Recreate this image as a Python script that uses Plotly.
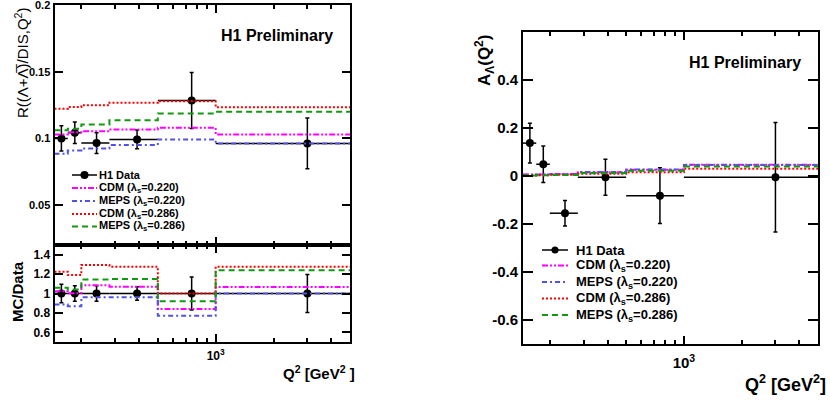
import math
import plotly.graph_objects as go

# ---------------- data ----------------
q2_edges = [145, 170, 200, 280, 500, 1000, 5000]
q2_centers = [157.5, 185, 240, 390, 750, 3000]

# R((Lambda+antiLambda)/DIS, Q2)
r_data = [0.1000, 0.1043, 0.0965, 0.0993, 0.1285, 0.0963]
r_err = [0.0095, 0.0080, 0.0078, 0.0070, 0.0210, 0.0190]
r_cdm_220 = [0.1030, 0.1047, 0.1055, 0.1068, 0.1080, 0.1030]
r_meps_220 = [0.0885, 0.0910, 0.0925, 0.0950, 0.0993, 0.0963]
r_cdm_286 = [0.1223, 0.1236, 0.1250, 0.1268, 0.1280, 0.1235]
r_meps_286 = [0.1062, 0.1073, 0.1105, 0.1137, 0.1188, 0.1200]

# MC / Data
ratio_data = [1, 1, 1, 1, 1, 1]
ratio_err = [0.095, 0.080, 0.080, 0.070, 0.170, 0.195]
ratio_cdm_220 = [1.024, 1.003, 1.086, 1.070, 0.840, 1.066]
ratio_meps_220 = [0.886, 0.868, 0.962, 0.962, 0.771, 1.000]
ratio_cdm_286 = [1.225, 1.190, 1.294, 1.277, 1.000, 1.277]
ratio_meps_286 = [1.059, 1.040, 1.145, 1.150, 0.920, 1.240]

# A_Lambda(Q2)
a_data = [0.137, 0.049, -0.155, -0.005, -0.082, -0.005]
a_err = [0.083, 0.076, 0.053, 0.075, 0.116, 0.228]
a_cdm_220 = [0.006, 0.006, 0.008, 0.016, 0.026, 0.047]
a_meps_220 = [0.005, 0.006, 0.007, 0.017, 0.027, 0.046]
a_cdm_286 = [0.002, 0.003, 0.005, 0.009, 0.016, 0.030]
a_meps_286 = [0.002, 0.003, 0.004, 0.012, 0.022, 0.040]

legend_labels = ["H1 Data",
                 "CDM (λ<sub>s</sub>=0.220)",
                 "MEPS (λ<sub>s</sub>=0.220)",
                 "CDM (λ<sub>s</sub>=0.286)",
                 "MEPS (λ<sub>s</sub>=0.286)"]

r_ticks = [0.05, 0.1, 0.15, 0.2]
r_ticktext = ["0.05", "0.1", "0.15", "0.2"]
ratio_ticks = [0.6, 0.8, 1.0, 1.2, 1.4]
ratio_ticktext = ["0.6", "0.8", "1", "1.2", "1.4"]
a_ticks = [-0.6, -0.4, -0.2, 0, 0.2, 0.4]
a_ticktext = ["-0.6", "-0.4", "-0.2", "0", "0.2", "0.4"]
x_major = [1000]
x_major_text = ["10<sup>3</sup>"]
x_minor = [200, 300, 400, 500, 600, 700, 800, 900, 2000, 3000, 4000]

# ---------------- styles ----------------
W, H = 830, 401
FONT = "Liberation Sans, Arial, sans-serif"
model_styles = [
    dict(color="#ff00ff", dash="6px,2px,2px,2px,2px,2px"),
    dict(color="#5252e6", dash="5px,3px,2px,3px"),
    dict(color="#ff0000", dash="2px,2px"),
    dict(color="#119911", dash="6px,4px"),
]

def px(x):
    return x / W

def py(y):
    return 1 - y / H

xerr_plus = [hi - c for hi, c in zip(q2_edges[1:], q2_centers)]
xerr_minus = [c - lo for lo, c in zip(q2_edges[:-1], q2_centers)]

fig = go.Figure()

def add_panel(xa, ya, data, err, models, msize=8):
    fig.add_trace(go.Scatter(
        x=q2_centers, y=data, mode="markers", xaxis=xa, yaxis=ya,
        marker=dict(color="black", size=msize),
        error_y=dict(type="data", array=err, color="black", thickness=1.5, width=2),
        error_x=dict(type="data", array=xerr_plus, arrayminus=xerr_minus,
                     color="black", thickness=1.5, width=0),
        showlegend=False, cliponaxis=False))
    for vals, st in zip(models, model_styles):
        fig.add_trace(go.Scatter(
            x=q2_edges, y=list(vals) + [vals[-1]], mode="lines", line_shape="hv",
            xaxis=xa, yaxis=ya, line=dict(color=st["color"], dash=st["dash"], width=2),
            showlegend=False))

add_panel("x", "y", r_data, r_err, [r_cdm_220, r_meps_220, r_cdm_286, r_meps_286])
add_panel("x2", "y2", ratio_data, ratio_err,
          [ratio_cdm_220, ratio_meps_220, ratio_cdm_286, ratio_meps_286])
add_panel("x3", "y3", a_data, a_err, [a_cdm_220, a_meps_220, a_cdm_286, a_meps_286])

xr = [math.log10(q2_edges[0]), math.log10(q2_edges[-1])]

def xax(domain, labels, fs, standoff=0):
    return dict(domain=domain, type="log", range=xr, showline=True, linewidth=2,
                linecolor="black", mirror="allticks", ticks="inside", ticklen=8,
                tickwidth=1.5, tickcolor="black", tickvals=x_major, ticktext=x_major_text,
                showticklabels=labels, showgrid=False, zeroline=False, automargin=False,
                tickfont=dict(family=FONT, size=fs, color="black", weight="bold"),
                ticklabelstandoff=standoff, ticklabeloverflow="allow",
                minor=dict(tickvals=x_minor, ticks="inside", ticklen=4, tickwidth=1.5,
                           tickcolor="black", showgrid=False))

def yax(domain, rng, vals, text, fs, tl=8):
    return dict(domain=domain, range=rng, showline=True, linewidth=2, linecolor="black",
                mirror="allticks", ticks="inside", ticklen=tl, tickwidth=1.5,
                tickcolor="black", tickvals=vals, ticktext=text, showgrid=False,
                zeroline=False, ticklabeloverflow="allow", automargin=False,
                tickfont=dict(family=FONT, size=fs, color="black", weight="bold"))

LX = [px(54.5), px(350)]
RX = [px(523), px(818)]

fig.update_layout(
    width=W, height=H, margin=dict(l=0, r=0, t=0, b=0, autoexpand=False),
    paper_bgcolor="white", plot_bgcolor="white", showlegend=False,
    xaxis=dict(xax(LX, False, 12), anchor="y"),
    yaxis=dict(yax([py(245), py(5)], [0.02, 0.2002], r_ticks, r_ticktext, 11), anchor="x"),
    xaxis2=dict(xax(LX, True, 12, 2), anchor="y2"),
    yaxis2=dict(yax([py(342), py(245)], [0.5, 1.5], ratio_ticks, ratio_ticktext, 12), anchor="x2"),
    xaxis3=dict(xax(RX, True, 15, 4), anchor="y3"),
    yaxis3=dict(yax([py(344), py(32)], [-0.7, 0.6], a_ticks, a_ticktext, 15, 10), anchor="x3"),
)

ann = []
def text(x, y, s, size, xanchor="center", angle=0, bold=True):
    ann.append(dict(x=px(x), y=py(y), xref="paper", yref="paper", text=s,
                    showarrow=False, xanchor=xanchor, yanchor="middle", textangle=angle,
                    font=dict(family=FONT, size=size, color="black",
                              weight="bold" if bold else "normal")))

text(277, 35, "H1 Preliminary", 16)
text(745, 62, "H1 Preliminary", 16)
text(22, 63, "R((Λ+Λ\u0305)/DIS,Q<sup>2</sup>)", 15, angle=-90, bold=False)
text(17, 292, "MC/Data", 15, angle=-90)
text(485, 61, "A<sub>Λ</sub>(Q<sup>2</sup>)", 17, angle=-90)
text(357, 372, "Q<sup>2</sup> [GeV<sup>2</sup> ]", 15, xanchor="right")
text(828, 383, "Q<sup>2</sup> [GeV<sup>2</sup>]", 18, xanchor="right")

shapes = []
def legend(x0, x1, xt, ys, fs, mr):
    for i, (lab, y) in enumerate(zip(legend_labels, ys)):
        if i == 0:
            shapes.append(dict(type="line", xref="paper", yref="paper", x0=px(x0), x1=px(x1),
                               y0=py(y), y1=py(y), line=dict(color="black", width=1.5)))
            xc = (x0 + x1) / 2
            shapes.append(dict(type="circle", xref="paper", yref="paper",
                               x0=px(xc - mr), x1=px(xc + mr), y0=py(y + mr), y1=py(y - mr),
                               fillcolor="black", line=dict(color="black", width=0)))
        else:
            st = model_styles[i - 1]
            shapes.append(dict(type="line", xref="paper", yref="paper", x0=px(x0), x1=px(x1),
                               y0=py(y), y1=py(y), line=dict(color=st["color"], dash=st["dash"], width=2)))
        text(xt, y, lab, fs, xanchor="left")

legend(72, 97, 97, [175, 188, 201, 214, 226.5], 11, 4)
legend(542, 568, 574, [250, 265.5, 282, 298.5, 315], 13, 3.5)

fig.update_layout(annotations=ann, shapes=shapes)
fig.write_html("out.html", config={"displayModeBar": False},
               post_script="document.body.style.margin='0';document.body.style.overflow='hidden';")
